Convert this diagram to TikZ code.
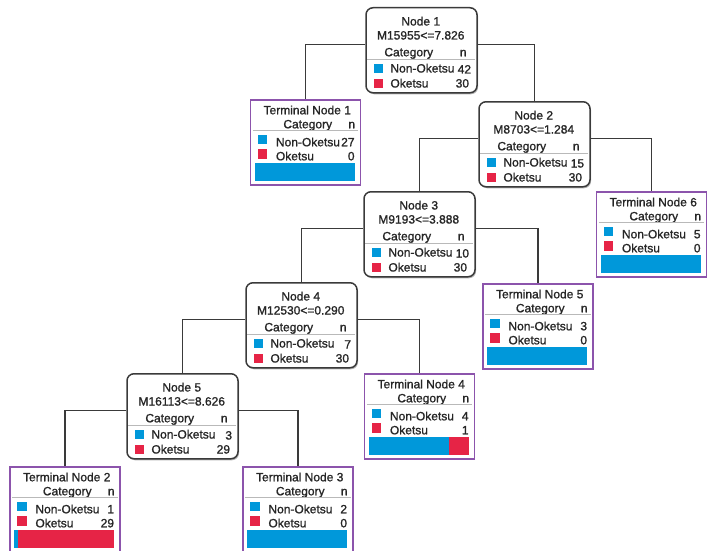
\documentclass[tikz,border=0pt]{standalone}
\usepackage{fontspec}
\setmainfont{Liberation Sans}
\newfontfamily\treefont[FakeBold=1.2]{Liberation Sans}
\usetikzlibrary{positioning, calc, shadows}
\definecolor{nonoketsu}{RGB}{0,152,218}
\definecolor{oketsu}{RGB}{230,36,70}
\definecolor{leafline}{RGB}{140,84,172}
\definecolor{splitline}{RGB}{58,58,58}
\tikzset{
    split/.style={draw=splitline, line width=1.5pt, rounded corners=7pt, fill=white,
        minimum width=111pt, minimum height=85pt, inner sep=0pt, anchor=north,
        drop shadow={shadow xshift=1pt, shadow yshift=-1.5pt, opacity=0.3, fill=black}},
    leaf/.style={draw=leafline, line width=1.5pt, fill=white,
        minimum width=110pt, minimum height=85pt, inner sep=0pt, anchor=north},
    lbl/.style={inner sep=0pt, text=black!85, font=\treefont\fontsize{12}{14}\selectfont},
    swatch/.style={inner sep=0pt, minimum size=9.5pt},
    sep/.style={draw=gray!55, line width=1.3pt},
    branch/.style={draw=splitline, line width=1.3pt},
}
% name, x, top, title, condition, n non-oketsu, n oketsu
\newcommand{\SplitNode}[7]{
    \node[split] (#1) at (#2,#3) {};
    \node[lbl, anchor=base] (#1-head) at ($(#1.north west)+(55.5,18.5)$) {#4};
    \node[lbl, anchor=base] (#1-cond) at ($(#1.north west)+(55.5,32.5)$) {#5};
    \node[lbl, anchor=base] (#1-cat) at ($(#1.north west)+(43.5,49.3)$) {Category};
    \node[lbl, anchor=base] (#1-n) at ($(#1.north west)+(98,49.3)$) {n};
    \draw[sep] ($(#1.north west)+(2,52.5)$) -- ($(#1.north east)+(-3,52.5)$);
    \node[swatch, fill=nonoketsu] (#1-sa) at ($(#1.north west)+(13,61.5)$) {};
    \node[lbl, anchor=base west] (#1-la) at ($(#1.north west)+(25,65.5)$) {Non-Oketsu};
    \node[lbl, anchor=base east] (#1-va) at ($(#1.north west)+(106,66.5)$) {#6};
    \node[swatch, fill=oketsu] (#1-sb) at ($(#1.north west)+(13,76.5)$) {};
    \node[lbl, anchor=base west] (#1-lb) at ($(#1.north west)+(25,80.5)$) {Oketsu};
    \node[lbl, anchor=base east] (#1-vb) at ($(#1.north west)+(104,80.5)$) {#7};
}
% name, x, top, index, n non-oketsu, n oketsu
\newcommand{\LeafNode}[6]{
    \node[leaf] (#1) at (#2,#3) {};
    \node[lbl, anchor=base] (#1-head) at ($(#1.north west)+(57.5,15.3)$) {Terminal Node #4};
    \node[lbl, anchor=base] (#1-cat) at ($(#1.north west)+(58,29.3)$) {Category};
    \node[lbl, anchor=base] (#1-n) at ($(#1.north west)+(102,29.3)$) {n};
    \draw[sep] ($(#1.north west)+(3,31.5)$) -- ($(#1.north east)+(-3,31.5)$);
    \node[swatch, fill=nonoketsu] (#1-sa) at ($(#1.north west)+(12.5,40.5)$) {};
    \node[lbl, anchor=base west] (#1-la) at ($(#1.north west)+(26,47.3)$) {Non-Oketsu};
    \node[lbl, anchor=base east] (#1-va) at ($(#1.north west)+(105,47.3)$) {#5};
    \node[swatch, fill=oketsu] (#1-sb) at ($(#1.north west)+(12.5,55)$) {};
    \node[lbl, anchor=base west] (#1-lb) at ($(#1.north west)+(26,61.3)$) {Oketsu};
    \node[lbl, anchor=base east] (#1-vb) at ($(#1.north west)+(105,61.3)$) {#6};
    \pgfmathsetmacro{\bluelen}{100*#5/(#5+#6)}
    \fill[oketsu] ($(#1.north west)+(5,64)$) rectangle ($(#1.north west)+(105,82)$);
    \fill[nonoketsu] ($(#1.north west)+(5,64)$) rectangle ($(#1.north west)+(5+\bluelen,82)$);
}

\begin{document}
\begin{tikzpicture}[x=1pt, y=-1pt]
    \useasboundingbox (0,0) rectangle (707,551);

    \SplitNode{n1}{421.5}{7}{Node 1}{M15955<=7.826}{42}{30}
    \LeafNode{t1}{305.5}{99}{1}{27}{0}
    \SplitNode{n2}{534.5}{101}{Node 2}{M8703<=1.284}{15}{30}
    \SplitNode{n3}{419.5}{191}{Node 3}{M9193<=3.888}{10}{30}
    \LeafNode{t6}{651.5}{191}{6}{5}{0}
    \SplitNode{n4}{301.5}{282}{Node 4}{M12530<=0.290}{7}{30}
    \LeafNode{t5}{538}{283}{5}{3}{0}
    \SplitNode{n5}{182.5}{373}{Node 5}{M16113<=8.626}{3}{29}
    \LeafNode{t4}{419.5}{373}{4}{4}{1}
    \LeafNode{t2}{65}{466}{2}{1}{29}
    \LeafNode{t3}{298}{466}{3}{2}{0}

    \draw[branch] ([yshift=5.5pt]n1.west) -| (t1.north);
    \draw[branch] ([yshift=5.5pt]n1.east) -| (n2.north);
    \draw[branch] ([yshift=5.5pt]n2.west) -| (n3.north);
    \draw[branch] ([yshift=5.5pt]n2.east) -| (t6.north);
    \draw[branch] ([yshift=5.5pt]n3.west) -| (n4.north);
    \draw[branch] ([yshift=5.5pt]n3.east) -| (t5.north);
    \draw[branch] ([yshift=5.5pt]n4.west) -| (n5.north);
    \draw[branch] ([yshift=5.5pt]n4.east) -| (t4.north);
    \draw[branch] ([yshift=5.5pt]n5.west) -| (t2.north);
    \draw[branch] ([yshift=5.5pt]n5.east) -| (t3.north);
\end{tikzpicture}
\end{document}
